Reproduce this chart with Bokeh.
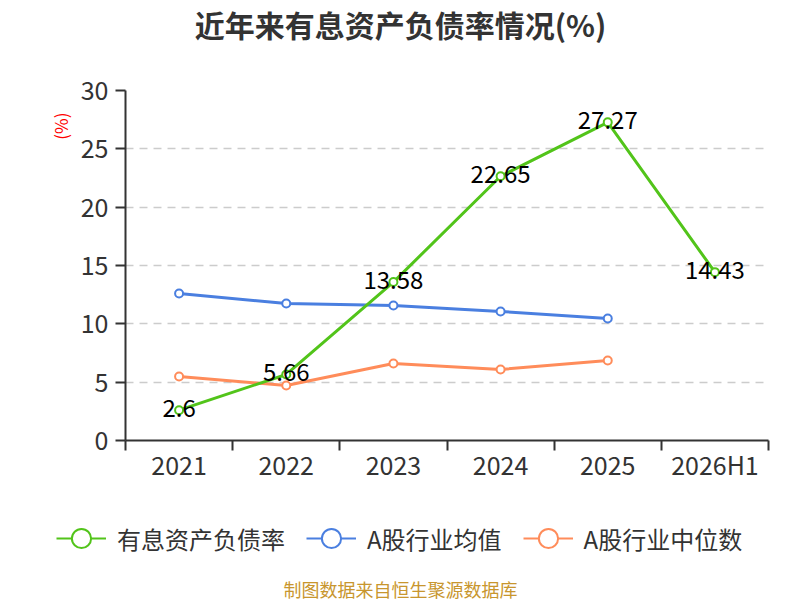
from bokeh.plotting import figure
from bokeh.models import FixedTicker, Legend, LegendItem, ColumnDataSource, Title, Label
from bokeh.layouts import column
from bokeh.core.properties import value
from bokeh.embed import file_html
from bokeh.resources import INLINE

categories = ["2021", "2022", "2023", "2024", "2025", "2026H1"]
debt_ratio = [2.6, 5.66, 13.58, 22.65, 27.27, 14.43]
industry_mean = [12.6, 11.74, 11.57, 11.06, 10.45]
industry_median = [5.49, 4.71, 6.6, 6.09, 6.86]
y_ticks = [0, 5, 10, 15, 20, 25, 30]
series_names = ["有息资产负债率", "A股行业均值", "A股行业中位数"]

FONT = "Noto Sans CJK SC"
GREEN = "#52c41a"
BLUE = "#4a7fe0"
ORANGE = "#ff8c5a"
NAN = float("nan")

W = 800
TOP_H, MAIN_H, BOT_H = 50, 450, 100
TOTAL_H = TOP_H + MAIN_H + BOT_H
FL, FR, FT, FB = 125, 768, 90, 440  # frame in page px
N = len(categories)


def blank(h):
    f = figure(width=W, height=h, output_backend="svg", toolbar_location=None,
               x_range=(0, W), y_range=(0, h), x_axis_type=None, y_axis_type=None,
               min_border=0, title=None)
    f.frame_align = False
    f.outline_line_color = None
    f.grid.visible = False
    f.background_fill_color = "white"
    f.border_fill_color = "white"
    return f


# ---- header
top = blank(TOP_H)
top.add_layout(Label(x=400, y=TOP_H - 23, text="近年来有息资产负债率情况(%)",
                     text_align="center", text_baseline="middle", text_font=FONT,
                     text_font_size="30px", text_font_style="bold", text_color="#333333"))

# ---- main chart
p = figure(width=W, height=MAIN_H, output_backend="svg", toolbar_location=None,
           x_range=(0, N), y_range=(0, 30), title=None,
           min_border_left=FL, min_border_right=W - FR,
           min_border_top=FT - TOP_H, min_border_bottom=TOP_H + MAIN_H - FB)
p.outline_line_color = None
p.background_fill_color = "white"
p.border_fill_color = "white"

xs = [i + 0.5 for i in range(N)]

p.xaxis.ticker = FixedTicker(ticks=xs, minor_ticks=list(range(N + 1)))
p.xaxis.major_label_overrides = {x: c for x, c in zip(xs, categories)}
p.xaxis.major_tick_line_color = None
p.xaxis.minor_tick_out = 10
p.xaxis.minor_tick_in = 0
p.xaxis.minor_tick_line_color = "#333333"
p.xaxis.minor_tick_line_width = 2
p.xaxis.axis_line_color = "#333333"
p.xaxis.axis_line_width = 2
p.xaxis.major_label_text_font = FONT
p.xaxis.major_label_text_font_size = "25px"
p.xaxis.major_label_text_color = "#333333"
p.xaxis.major_label_standoff = -5

p.yaxis.ticker = FixedTicker(ticks=y_ticks, minor_ticks=[])
p.yaxis.major_tick_out = 10
p.yaxis.major_tick_in = 0
p.yaxis.major_tick_line_color = "#333333"
p.yaxis.major_tick_line_width = 2
p.yaxis.minor_tick_line_color = None
p.yaxis.axis_line_color = "#333333"
p.yaxis.axis_line_width = 2
p.yaxis.major_label_text_font = FONT
p.yaxis.major_label_text_font_size = "25px"
p.yaxis.major_label_text_color = "#333333"
p.yaxis.major_label_standoff = 7

p.xgrid.grid_line_color = None
p.ygrid.ticker = FixedTicker(ticks=y_ticks[1:])
p.ygrid.grid_line_color = "#cccccc"
p.ygrid.grid_line_width = 1.5
p.ygrid.grid_line_dash = "8 6"


def series(fig, vals, color, size=8):
    src = ColumnDataSource(dict(x=xs[:len(vals)], y=vals))
    ln = fig.line("x", "y", source=src, line_color=color, line_width=3)
    sc = fig.scatter("x", "y", source=src, size=size, marker="circle",
                     fill_color="white", line_color=color, line_width=2)
    return ln, sc


series(p, industry_mean, BLUE)
series(p, industry_median, ORANGE)
series(p, debt_ratio, GREEN)

lab_src = ColumnDataSource(dict(x=xs, y=debt_ratio, t=[f"{v:g}" for v in debt_ratio]))
p.text("x", "y", text="t", source=lab_src, text_align="center", text_baseline="middle",
       text_font=value(FONT), text_font_size="24px", text_color="black", y_offset=-2)

p.add_layout(Title(text="(%)", align="right", offset=112 - FT, text_font=FONT,
                   text_font_size="17px", text_font_style="normal",
                   text_color="#ff0000", standoff=10), "left")

# ---- footer: legend + source
bot = blank(BOT_H)
items = []
for name, color in zip(series_names, [GREEN, BLUE, ORANGE]):
    ln = bot.line(x=[NAN], y=[NAN], line_color=color, line_width=2)
    sc = bot.scatter(x=[NAN], y=[NAN], marker="circle", fill_color="white",
                     line_color=color, line_width=2)
    items.append(LegendItem(label=name, renderers=[ln, sc]))

legend = Legend(items=items, orientation="horizontal",
                location=(56, TOTAL_H - (538 + 24)))
legend.glyph_width = 50
legend.glyph_height = 48
legend.label_standoff = 11
legend.spacing = 21
legend.padding = 0
legend.margin = 0
legend.border_line_color = None
legend.background_fill_alpha = 0
legend.label_text_font = FONT
legend.label_text_font_size = "24px"
legend.label_text_color = "#333333"
bot.add_layout(legend, "center")

bot.add_layout(Label(x=400, y=TOTAL_H - 588, text="制图数据来自恒生聚源数据库",
                     text_align="center", text_baseline="middle", text_font=FONT,
                     text_font_size="18px", text_color="#c8962e"))

layout = column(top, p, bot, spacing=0)
open("out.html", "w").write(file_html(layout, INLINE))
